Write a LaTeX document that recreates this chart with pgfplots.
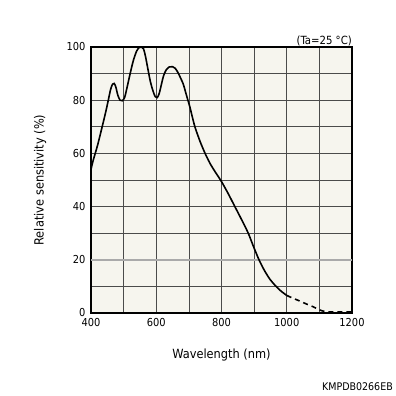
\documentclass[border=0pt]{standalone}
\usepackage{pgfplots}
\pgfplotsset{compat=1.18}
\usepackage{fontspec}
\setmainfont{DejaVu Sans Condensed}
\definecolor{bgcol}{RGB}{246,245,238}
\definecolor{gridcol}{RGB}{75,75,75}
\begin{document}
\begin{tikzpicture}
\path[use as bounding box] (-91bp,-83bp) rectangle (305bp,313bp);
\begin{axis}[
  scale only axis,
  width=261bp, height=266bp,
  xmin=400, xmax=1200, ymin=0, ymax=100,
  xtick={400,600,...,1200},
  minor xtick={500,700,900,1100},
  ytick={0,20,...,100},
  minor ytick={10,30,50,70,90},
  grid=both,
  major grid style={gridcol, line width=0.7bp},
  minor grid style={gridcol, line width=0.7bp},
  major tick length=0pt, minor tick length=0pt,
  axis line style={black, line width=1.6bp},
  axis background/.style={fill=bgcol},
  /pgf/number format/assume math mode=true,
  /pgf/number format/set thousands separator={},
  tick label style={font=\fontsize{11}{12}\selectfont, black},
  yticklabel style={xshift=-2bp},
  xticklabel style={yshift=-2bp},
  xlabel={Wavelength (nm)},
  ylabel={Relative sensitivity (\%)},
  label style={font=\fontsize{12.7}{14}\selectfont},
  xlabel style={at={(axis description cs:0.5,-0.158)}, anchor=center},
  ylabel style={at={(axis description cs:-0.195,0.5)}, anchor=center},
  clip=false,
]
\addplot[color={rgb,255:red,170;green,170;blue,170}, line width=1.5bp] coordinates {(400,20) (1200,20)};
\addplot[black, line width=1.6bp, smooth, tension=0.5] coordinates {
(400,54) (407,57.5) (420,63) (433,69.4) (445,75.5) (453,80) (460,84) (466,86) (471,86.3)
(476,85) (482,82) (489,80) (496,79.8) (503,81) (510,84.5) (520,90) (530,95) (540,98.5)
(548,99.8) (555,100) (561,99.3) (567,96.5) (574,92) (582,87) (590,83.5) (597,81.3) (603,81)
(609,82.5) (615,85.5) (622,89) (630,91.3) (640,92.5) (650,92.6) (658,92) (666,90.5)
(674,88.5) (683,86) (690,83) (697,80) (703,77.5) (710,74) (719,69.8) (734,64.6)
(749,60.2) (765,56.2) (782,52.8) (800,49.4) (820,45) (841,40) (862,35) (882,30)
(898,25) (915,20) (932,15.9) (949,12.6) (965,10.3) (979,8.6) (990,7.5) (1000,6.6)
};
\addplot[black, line width=1.6bp, smooth, dash pattern=on 5bp off 4bp] coordinates {
(1000,6.6) (1020,5.5) (1040,4.5) (1060,3.4) (1080,2.4) (1100,1.2) (1115,0.6) (1130,0.4) (1160,0.4) (1200,0.4)
};
\node[anchor=east, inner sep=0pt, font=\fontsize{11.3}{12}\selectfont] at (rel axis cs:1,1) [yshift=6bp] {(Ta=25 °C)};
\node[anchor=east, inner sep=0pt, font=\fontsize{10.6}{12}\selectfont] at (rel axis cs:1,0) [xshift=41bp, yshift=-74bp] {KMPDB0266EB};
\end{axis}
\end{tikzpicture}
\end{document}
